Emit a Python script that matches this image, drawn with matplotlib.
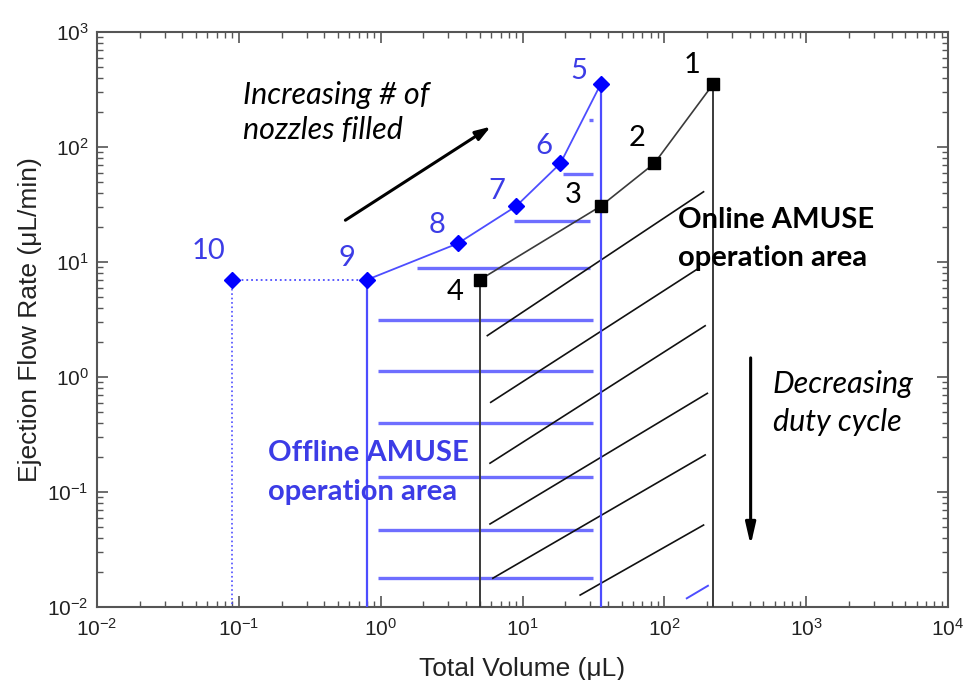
import numpy as np
import matplotlib
matplotlib.use("Agg")
import matplotlib.pyplot as plt
from matplotlib.ticker import FixedLocator, LogFormatterSciNotation, NullFormatter

plt.rcParams['font.family'] = ['Liberation Sans', 'DejaVu Sans']
plt.rcParams['axes.unicode_minus'] = False

# Online mode: points 4 -> 1
online_vol = [5.0, 35.5, 85.0, 220.0]
online_rate = [7.0, 30.5, 72.0, 350.0]
online_names = ['4', '3', '2', '1']

# Offline mode: points 10 -> 5
offline_vol = [0.09, 0.8, 3.5, 9.0, 18.5, 35.5]
offline_rate = [7.0, 7.0, 14.5, 30.5, 72.0, 350.0]
offline_names = ['10', '9', '8', '7', '6', '5']

# horizontal hatching of the offline area
off_hatch_y = [172, 58, 22.5, 8.9, 3.16, 1.13, 0.40, 0.135, 0.047, 0.018]
off_hatch_x0 = [29.5, 19.3, 8.7, 1.8, 0.95, 0.95, 0.95, 0.95, 0.95, 0.95]
off_hatch_x1 = [31.5, 31.5, 29.7, 29.7, 31.3, 31.3, 31.3, 31.3, 31.3, 31.3]

# diagonal hatching of the online area (start / end points)
on_hatch_x0 = [5.65, 5.97, 5.90, 5.90, 6.18, 25.5]
on_hatch_y0 = [2.29, 0.602, 0.178, 0.0527, 0.0178, 0.0127]
on_hatch_x1 = [189, 170, 194, 201, 194, 189]
on_hatch_y1 = [40.8, 8.64, 2.79, 0.721, 0.21, 0.0516]

x_decades = [1e-2, 1e-1, 1e0, 1e1, 1e2, 1e3, 1e4]
y_decades = [1e-2, 1e-1, 1e0, 1e1, 1e2, 1e3]

BLUE = '#0000ff'
BLUE_LINE = '#4d4dff'
BLUE_HATCH = '#6e6eff'
BLUE_TEXT = '#3c3ce6'
GREY = '#3a3a3a'
YMIN, YMAX = 1e-2, 1e3

fig = plt.figure(figsize=(9.66, 6.80), dpi=100)
ax = fig.add_axes([97 / 966, 1 - 607 / 680, 851 / 966, 575 / 680])
ax.set_xscale('log')
ax.set_yscale('log')
ax.set_xlim(1e-2, 1e4)
ax.set_ylim(YMIN, YMAX)

# hatching
for y, x0, x1 in zip(off_hatch_y, off_hatch_x0, off_hatch_x1):
    ax.plot([x0, x1], [y, y], color=BLUE_HATCH, lw=2.4, solid_capstyle='butt', zorder=1)
for x0, y0, x1, y1 in zip(on_hatch_x0, on_hatch_y0, on_hatch_x1, on_hatch_y1):
    ax.plot([x0, x1], [y0, y1], color='#111111', lw=1.2, zorder=2)
ax.plot([144, 203], [0.0119, 0.0153], color=BLUE_LINE, lw=1.4, zorder=2)

# drop lines down to the x axis
ax.plot([offline_vol[0]] * 2, [offline_rate[0], YMIN], color=BLUE_LINE, lw=1.2, ls=':', zorder=3)
ax.plot([offline_vol[1]] * 2, [offline_rate[1], YMIN], color=BLUE_LINE, lw=1.6, zorder=3)
ax.plot([offline_vol[-1]] * 2, [offline_rate[-1], YMIN], color=BLUE_LINE, lw=1.6, zorder=3)
ax.plot([online_vol[0]] * 2, [online_rate[0], YMIN], color=GREY, lw=1.4, zorder=3)
ax.plot([online_vol[-1]] * 2, [online_rate[-1], YMIN], color=GREY, lw=1.4, zorder=3)

# curves
ax.plot(online_vol, online_rate, color=GREY, lw=1.2, marker='s', ms=8,
        mfc='black', mec='black', zorder=4)
ax.plot(offline_vol[:2], offline_rate[:2], color=BLUE_LINE, lw=1.3, ls=':', zorder=4)
ax.plot(offline_vol[1:], offline_rate[1:], color=BLUE_LINE, lw=1.3, zorder=4)
ax.plot(offline_vol, offline_rate, ls='none', marker='D', ms=8, mfc=BLUE, mec=BLUE, zorder=5)

# point numbers
num_font = dict(family=['Lato', 'DejaVu Sans'], fontsize=21, ha='center', va='center')
online_offsets = [(-25, -12), (-27, 11), (-17, 25), (-21, 19)]
for x, y, name, (dx, dy) in zip(online_vol, online_rate, online_names, online_offsets):
    ax.annotate(name, (x, y), xytext=(dx, dy), textcoords='offset pixels', color='black', **num_font)
offline_offsets = [(-24, 29), (-20, 22), (-21, 18), (-19, 15), (-17, 17), (-22, 13)]
for x, y, name, (dx, dy) in zip(offline_vol, offline_rate, offline_names, offline_offsets):
    ax.annotate(name, (x, y), xytext=(dx, dy), textcoords='offset pixels', color=BLUE_TEXT, **num_font)

# arrows
ax.annotate('', xy=(6.2, 155), xytext=(0.543, 22.4),
            arrowprops=dict(arrowstyle='-|>,head_length=0.9,head_width=0.3', color='black', lw=2.2))
ax.annotate('', xy=(406, 0.0326), xytext=(406, 1.55),
            arrowprops=dict(arrowstyle='-|>,head_length=1.3,head_width=0.3', color='black', lw=2.2))

# annotation texts
note_font = dict(family=['Lato', 'DejaVu Sans'], ha='left', va='center')
fig.text(243 / 966, 1 - 95 / 680, 'Increasing # of', style='italic', fontsize=22, **note_font)
fig.text(243 / 966, 1 - 130 / 680, 'nozzles filled', style='italic', fontsize=22, **note_font)
fig.text(773 / 966, 1 - 384 / 680, 'Decreasing', style='italic', fontsize=22, **note_font)
fig.text(773 / 966, 1 - 422 / 680, 'duty cycle', style='italic', fontsize=22, **note_font)
fig.text(678 / 966, 1 - 220 / 680, 'Online AMUSE', weight='bold', color='black', fontsize=21, **note_font)
fig.text(678 / 966, 1 - 258 / 680, 'operation area', weight='bold', color='black', fontsize=21, **note_font)
fig.text(268 / 966, 1 - 453 / 680, 'Offline AMUSE', weight='bold', color=BLUE_TEXT, fontsize=21, **note_font)
fig.text(268 / 966, 1 - 492 / 680, 'operation area', weight='bold', color=BLUE_TEXT, fontsize=21, **note_font)

# axes styling
minor_x = [m * d for d in x_decades[:-1] for m in range(2, 10)]
minor_y = [m * d for d in y_decades[:-1] for m in range(2, 10)]
ax.xaxis.set_major_locator(FixedLocator(x_decades))
ax.yaxis.set_major_locator(FixedLocator(y_decades))
ax.xaxis.set_major_formatter(LogFormatterSciNotation())
ax.yaxis.set_major_formatter(LogFormatterSciNotation())
ax.xaxis.set_minor_locator(FixedLocator(minor_x))
ax.yaxis.set_minor_locator(FixedLocator(minor_y))
ax.xaxis.set_minor_formatter(NullFormatter())
ax.yaxis.set_minor_formatter(NullFormatter())
ax.tick_params(which='both', direction='in', top=True, right=True, colors='#555555',
               labelcolor='#222222', labelsize=15)
ax.tick_params(which='major', length=8, width=1.2)
ax.tick_params(which='minor', length=4, width=1.0)
ax.tick_params(axis='x', pad=8)
ax.tick_params(axis='y', pad=6)
for s in ax.spines.values():
    s.set_color('#555555')
    s.set_linewidth(1.5)

ax.set_xlabel('Total Volume (\u03bcL)', fontsize=19, color='#222222', labelpad=12)
ax.set_ylabel('Ejection Flow Rate (\u03bcL/min)', fontsize=19, color='#222222', labelpad=4)

fig.savefig('out.png', dpi=100, facecolor='white')
